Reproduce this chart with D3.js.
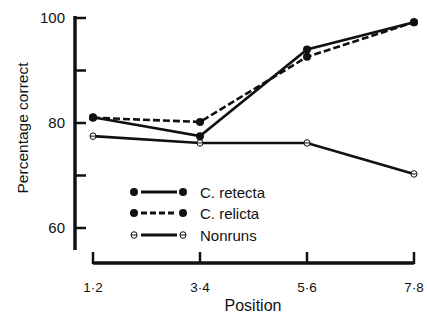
<!DOCTYPE html>
<html><head><meta charset="utf-8">
<script src="https://cdn.jsdelivr.net/npm/d3@7"></script>
<style>body{margin:0;background:#fff}svg{display:block}text{font-family:"Liberation Sans",Arial,sans-serif;fill:#111}</style>
</head><body><svg id="c" width="427" height="316"></svg>
<script>
const categories = ["1·2","3·4","5·6","7·8"];
const retecta = [81.1, 77.5, 94.0, 99.2];
const relicta = [81.0, 80.2, 92.6, 99.2];
const nonruns = [77.5, 76.2, 76.2, 70.3];
const yTicks = [60, 70, 80, 90, 100];
const yLabels = [60, 80, 100];
const seriesNames = ["C. retecta", "C. relicta", "Nonruns"];

const svg = d3.select("#c");
const ink = "#111";
const x = d3.scalePoint().domain(categories).range([93, 414]);
const y = d3.scaleLinear().domain([60, 100]).range([228, 18]);

// y axis
svg.append("line").attr("x1",75).attr("x2",75).attr("y1",16).attr("y2",250).attr("stroke",ink).attr("stroke-width",3.5);
svg.selectAll(".yt").data(yTicks).join("line").attr("x1",75).attr("x2",86)
  .attr("y1",d=>y(d)).attr("y2",d=>y(d)).attr("stroke",ink).attr("stroke-width",2.5);
svg.selectAll(".yl").data(yLabels).join("text").attr("x",65).attr("y",d=>y(d)+5)
  .attr("text-anchor","end").attr("font-size",15).text(d=>d);
svg.append("text").attr("transform","translate(28,128) rotate(-90)").attr("text-anchor","middle")
  .attr("font-size",15.5).text("Percentage correct");

// x axis
svg.append("line").attr("x1",x(categories[0])).attr("x2",x(categories[3])).attr("y1",263).attr("y2",263).attr("stroke",ink).attr("stroke-width",3.5);
svg.selectAll(".xt").data(categories).join("line").attr("x1",d=>x(d)).attr("x2",d=>x(d))
  .attr("y1",252).attr("y2",264).attr("stroke",ink).attr("stroke-width",2.5);
svg.selectAll(".xl").data(categories).join("text").attr("x",d=>x(d)).attr("y",292)
  .attr("text-anchor","middle").attr("font-size",13.5).text(d=>d);
svg.append("text").attr("x",253).attr("y",311).attr("text-anchor","middle").attr("font-size",16).text("Position");

const line = d3.line().x((d,i)=>x(categories[i])).y(d=>y(d));
function drawSeries(vals, dash, open){
  svg.append("path").attr("d",line(vals)).attr("fill","none").attr("stroke",ink)
    .attr("stroke-width",2.6).attr("stroke-dasharray",dash||null);
  vals.forEach((v,i)=>marker(x(categories[i]), y(v), open));
}
function marker(cx, cy, open){
  if(open){
    svg.append("ellipse").attr("cx",cx).attr("cy",cy).attr("rx",3).attr("ry",3.3).attr("fill","#fff").attr("stroke",ink).attr("stroke-width",1);
    svg.append("line").attr("x1",cx-3).attr("x2",cx+3).attr("y1",cy).attr("y2",cy).attr("stroke",ink).attr("stroke-width",1);
  } else {
    svg.append("circle").attr("cx",cx).attr("cy",cy).attr("r",4).attr("fill",ink);
  }
}
drawSeries(nonruns, null, true);
drawSeries(relicta, "7,3", false);
drawSeries(retecta, null, false);

// legend
const legY = [192, 213, 235];
const legStyles = [{dash:null,open:false},{dash:"6,3",open:false},{dash:null,open:true}];
seriesNames.forEach((n,i)=>{
  const s = legStyles[i];
  svg.append("line").attr("x1",141).attr("x2",177).attr("y1",legY[i]).attr("y2",legY[i])
    .attr("stroke",ink).attr("stroke-width",3).attr("stroke-dasharray",s.dash);
  marker(134, legY[i], s.open);
  marker(183, legY[i], s.open);
  svg.append("text").attr("x",200).attr("y",legY[i]+5.5).attr("font-size",15).text(n);
});
</script></body></html>
